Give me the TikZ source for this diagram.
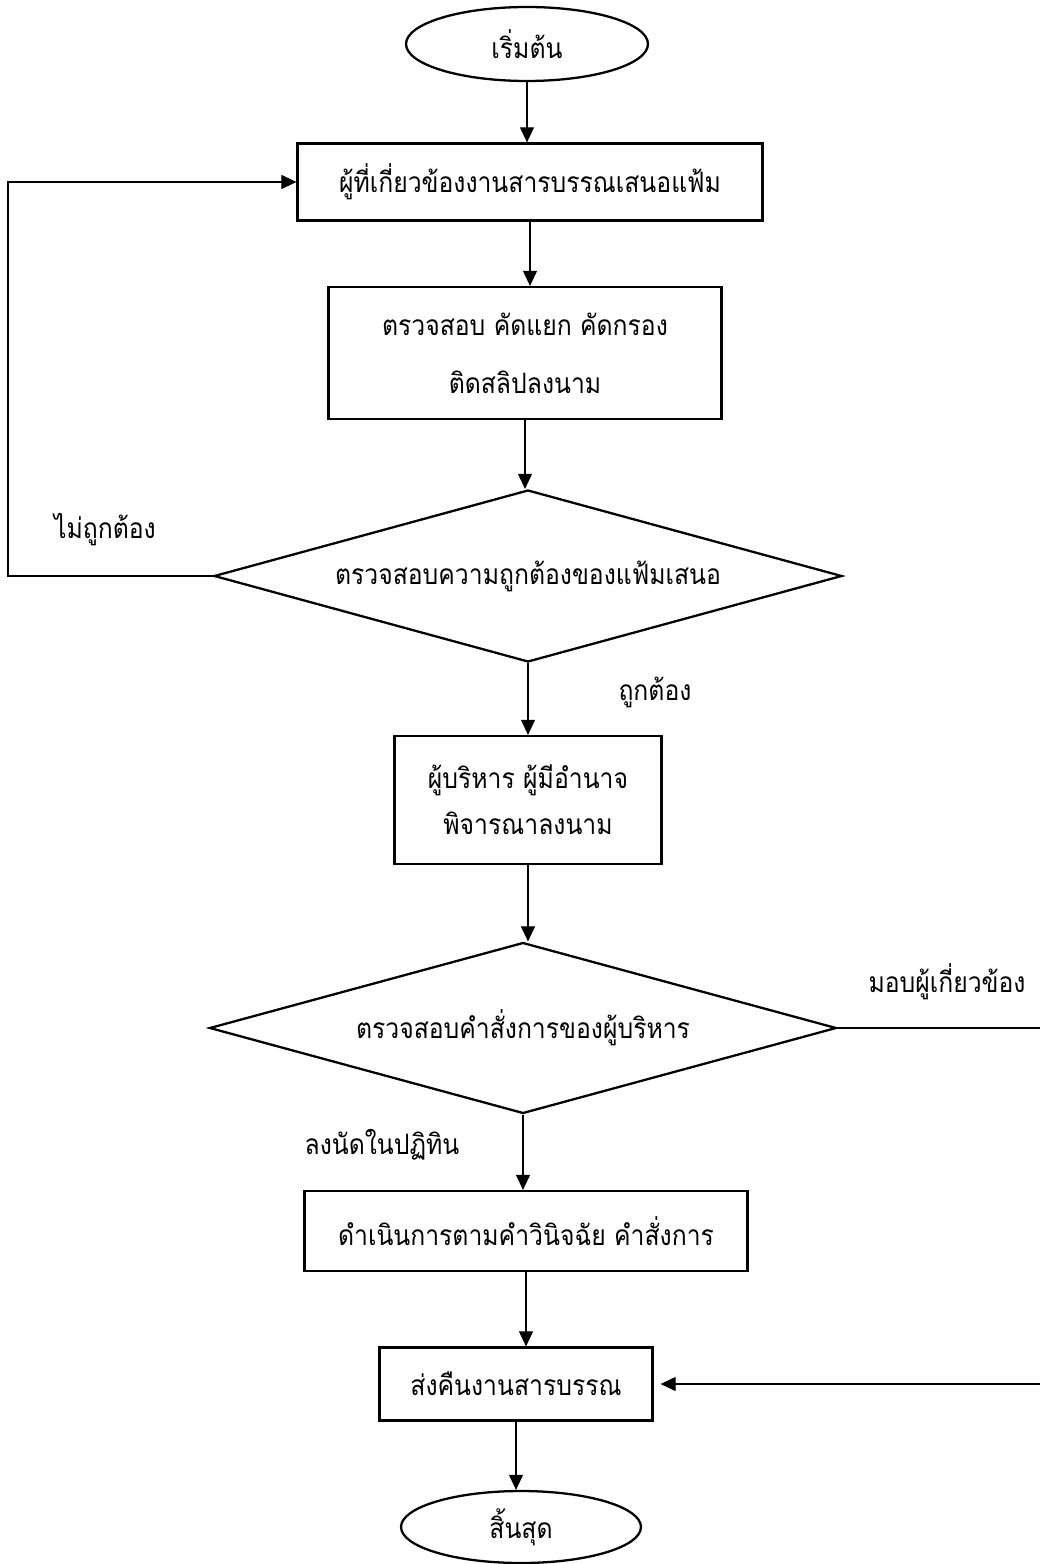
\documentclass[tikz,border=0pt]{standalone}
\usepackage{fontspec}
\setmainfont[Script=Thai, FakeStretch=0.88]{Loma}
\usetikzlibrary{shapes.geometric,arrows.meta}

\begin{document}
\begin{tikzpicture}[x=0.02cm, y=-0.02cm,
  caja/.style={draw, line width=1.3pt, align=center, inner sep=0pt, font=\fontsize{16}{20}\selectfont},
  ovalo/.style={ellipse, draw, line width=1.3pt, inner sep=0pt, minimum width=4.84cm, minimum height=1.48cm, font=\fontsize{16}{20}\selectfont},
  rombo/.style={diamond, draw, line width=1.3pt, inner sep=0pt, aspect=3.6, font=\fontsize{16}{20}\selectfont},
  flecha/.style={line width=0.6pt, -{Triangle[length=0.3cm, width=0.28cm]}},
  etiq/.style={font=\fontsize{16}{20}\selectfont}]
  \useasboundingbox (0,0) rectangle (1040,1564);
  \node[ovalo] (inicio) at (527,44) {เริ่มต้น};
  \node[caja, minimum width=9.3cm, minimum height=1.54cm] (presenta) at (530,182) {ผู้ที่เกี่ยวข้องงานสารบรรณเสนอแฟ้ม};
  \node[caja, minimum width=7.86cm, minimum height=2.64cm] (revisa) at (525,353) {ตรวจสอบ คัดแยก คัดกรอง\\[13pt]ติดสลิปลงนาม};
  \node[rombo, minimum width=12.56cm, minimum height=3.44cm] (correcto) at (528,576) {ตรวจสอบความถูกต้องของแฟ้มเสนอ};
  \node[caja, minimum width=5.34cm, minimum height=2.56cm] (firma) at (528,800) {ผู้บริหาร ผู้มีอำนาจ\\[6pt]พิจารณาลงนาม};
  \node[rombo, minimum width=12.54cm, minimum height=3.42cm] (orden) at (523,1028) {ตรวจสอบคำสั่งการของผู้บริหาร};
  \node[caja, minimum width=8.86cm, minimum height=1.6cm] (ejecuta) at (526,1231) {ดำเนินการตามคำวินิจฉัย คำสั่งการ};
  \node[caja, minimum width=5.46cm, minimum height=1.46cm] (devuelve) at (516,1384) {ส่งคืนงานสารบรรณ};
  \node[ovalo, minimum width=4.8cm, minimum height=1.44cm] (fin) at (521,1527) {สิ้นสุด};

  % etiquetas
  \node[etiq] (noes) at (105,530) {ไม่ถูกต้อง};
  \node[etiq] (sies) at (655,692) {ถูกต้อง};
  \node[etiq] (asigna) at (947,982) {มอบผู้เกี่ยวข้อง};
  \node[etiq] (agenda) at (382,1145) {ลงนัดในปฏิทิน};

  \coordinate (retizq) at (8,576);
  \coordinate (retder) at (1041,1028);

  \draw[flecha] (inicio.south) -- (inicio.south |- presenta.north);
  \draw[flecha] (presenta.south) -- (presenta.south |- revisa.north);
  \draw[flecha] (revisa.south) -- (revisa.south |- correcto.north);
  \draw[flecha] (correcto.south) -- (correcto.south |- firma.north);
  \draw[flecha] (firma.south) -- (firma.south |- orden.north);
  \draw[flecha] (orden.south) -- (orden.south |- ejecuta.north);
  \draw[flecha] (ejecuta.south) -- (ejecuta.south |- devuelve.north);
  \draw[flecha] (devuelve.south) -- (devuelve.south |- fin.north);
  \draw[flecha] (correcto.west) -- (retizq) |- (presenta.west);
  \draw[flecha, shorten >=0.14cm] (orden.east) -- (retder) |- (devuelve.east);
\end{tikzpicture}
\end{document}
